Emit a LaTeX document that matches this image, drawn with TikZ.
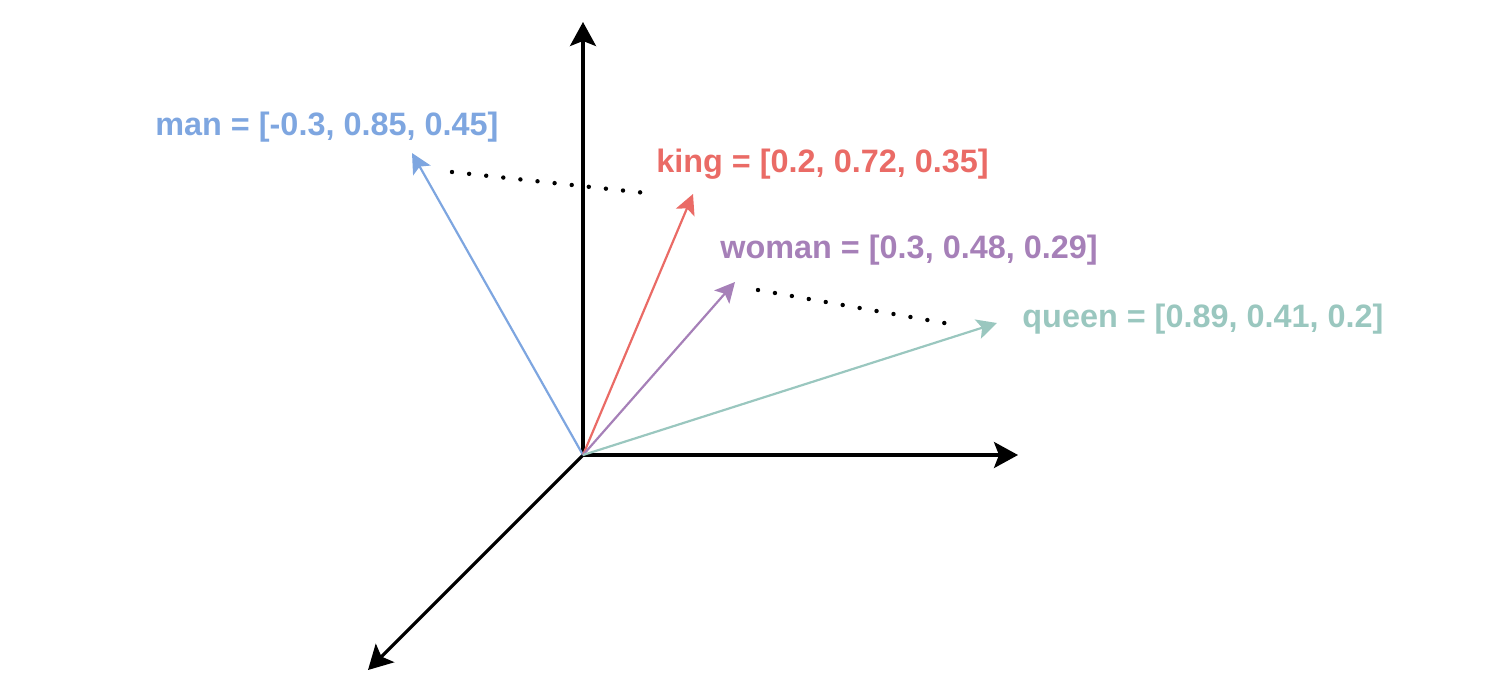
\documentclass[tikz,border=0pt]{standalone}
\usepackage{fontspec}
\setmainfont{Liberation Sans}
\usetikzlibrary{arrows.meta}
\definecolor{manc}{HTML}{7EA6E0}
\definecolor{kingc}{HTML}{EA6B66}
\definecolor{womanc}{HTML}{A680B8}
\definecolor{queenc}{HTML}{9AC7BF}
\begin{document}
\begin{tikzpicture}[x=0.5pt,y=-0.5pt,
  axis/.style={line width=1.6pt,-{Stealth[length=12pt,width=13pt,inset=2.5pt]}},
  vec/.style={line width=1.1pt,-{Stealth[length=10pt,width=10pt,inset=2.2pt]}},
  dotline/.style={line width=2.2pt,line cap=round,dash pattern=on 0pt off 8.6pt},
  lab/.style={anchor=west,inner sep=0pt,font=\fontsize{16.2}{19}\selectfont\bfseries}]
\useasboundingbox (0,0) rectangle (1512,692);
\coordinate (O) at (583,455);
\coordinate (Up) at (583,22);
\coordinate (Right) at (1018,455);
\coordinate (DL) at (368,670);
\coordinate (Man) at (412,153);
\coordinate (King) at (693,194);
\coordinate (Woman) at (735,282);
\coordinate (Queen) at (997,323);
\coordinate (d1a) at (452,172);
\coordinate (d1b) at (646,193);
\coordinate (d2a) at (758,290);
\coordinate (d2b) at (950,324);
\draw[axis] (O) -- (Up);
\draw[axis] (O) -- (Right);
\draw[axis] (O) -- (DL);
\draw[vec,manc] (O) -- (Man);
\draw[vec,kingc] (O) -- (King);
\draw[vec,womanc] (O) -- (Woman);
\draw[vec,queenc] (O) -- (Queen);
\draw[dotline] (d1a) -- (d1b);
\draw[dotline] (d2a) -- (d2b);
\node[lab,text=manc] (lman) at (155,127) {man = [-0.3, 0.85, 0.45]};
\node[lab,text=kingc] (lking) at (656,164) {king = [0.2, 0.72, 0.35]};
\node[lab,text=womanc] (lwoman) at (720,250) {woman = [0.3, 0.48, 0.29]};
\node[lab,text=queenc] (lqueen) at (1022,319) {queen = [0.89, 0.41, 0.2]};
\end{tikzpicture}
\end{document}
